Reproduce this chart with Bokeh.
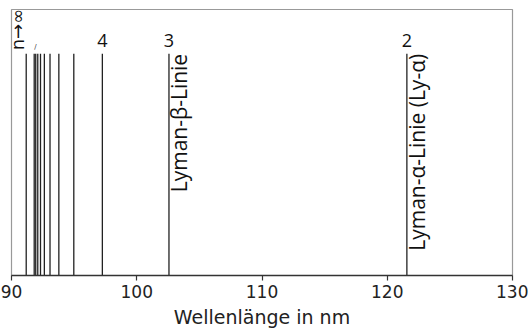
import numpy as np
from bokeh.plotting import figure
from bokeh.models import ColumnDataSource, FixedTicker, Range1d
from bokeh.core.properties import value
from bokeh.embed import file_html
from bokeh.resources import INLINE

# Lyman series line wavelengths (nm), n = 2, 3, 4, ... and series limit
wavelengths = [121.567, 102.572, 97.254, 94.974, 93.780, 93.075, 92.623,
               92.315, 92.097, 91.935, 91.813, 91.175]
line_height = [1.0] * len(wavelengths)

label_x = [97.254, 102.572, 121.567]
label_text = ["4", "3", "2"]

name_x = [102.572, 121.567]
name_text = ["Lyman-\u03b2-Linie", "Lyman-\u03b1-Linie (Ly-\u03b1)"]

limit_x = [90.48]
limit_text = ["n\u2192\u221e"]

x_ticks = [90, 100, 110, 120, 130]

p = figure(width=528, height=330, output_backend="svg", toolbar_location=None,
           x_range=Range1d(90, 130), y_range=Range1d(0, 1.2),
           y_axis_location=None,
           min_border_left=11, min_border_right=16, min_border_top=9,
           min_border_bottom=53)
p.grid.visible = False
p.outline_line_color = "#999999"
p.outline_line_width = 1.2

src = ColumnDataSource(dict(x=wavelengths, y0=[0.0] * len(wavelengths), y1=line_height))
p.segment(x0="x", y0="y0", x1="x", y1="y1", source=src, line_color="#222222", line_width=1.3)

p.text(x=label_x, y=[1.058] * 3, text=label_text, text_align="center",
       text_baseline="alphabetic", text_font=value("Open Sans"),
       text_font_size="18px", text_color="#111111")

p.text(x=name_x, y=[1.0] * 2, text=name_text, angle=np.pi / 2,
       text_align="right", text_baseline="top", text_font=value("Open Sans"),
       text_font_size="21px", text_color="#111111", x_offset=-4)

p.text(x=limit_x, y=[1.016], text=limit_text, angle=np.pi / 2,
       text_align="left", text_baseline="middle", text_font=value("DejaVu Sans"),
       text_font_size="18px", text_color="#111111")

p.text(x=[91.92], y=[1.03], text=["/"], text_align="center",
       text_baseline="middle", text_font=value("DejaVu Sans"),
       text_font_size="7px", text_color="#333333")

ax = p.xaxis[0]
ax.ticker = FixedTicker(ticks=x_ticks)
ax.axis_label = "Wellenl\u00e4nge in nm"
ax.axis_label_text_font = "DejaVu Sans"
ax.axis_label_text_font_style = "normal"
ax.axis_label_text_font_size = "19px"
ax.axis_label_text_color = "#222222"
ax.axis_label_standoff = 5
ax.major_label_text_font = "DejaVu Sans"
ax.major_label_text_font_size = "17px"
ax.major_label_text_color = "#222222"
ax.major_label_standoff = 4
ax.major_tick_out = 5
ax.major_tick_in = 0
ax.minor_tick_line_color = None
ax.axis_line_color = "#333333"
ax.axis_line_width = 1.5
ax.major_tick_line_color = "#333333"
ax.major_tick_line_width = 1.2

open("out.html", "w").write(file_html(p, INLINE))
